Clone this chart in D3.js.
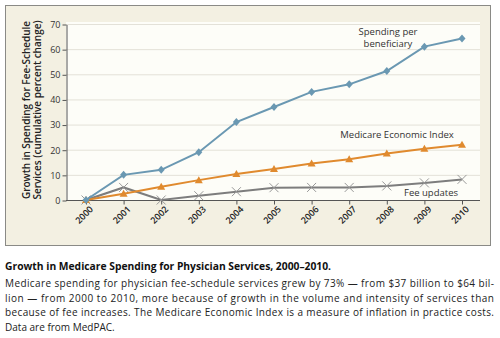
<!DOCTYPE html>
<html>
<head>
<meta charset="utf-8">
<script src="https://d3js.org/d3.v7.min.js"></script>
<style>
  body { margin: 0; background: #fff; }
  text { font-family: "Open Sans", "DejaVu Sans", sans-serif; }
</style>
</head>
<body>
<div id="chart"></div>
<script>

// data
var years = [2000, 2001, 2002, 2003, 2004, 2005, 2006, 2007, 2008, 2009, 2010];
var spendingPerBeneficiary = [0, 10, 12, 19, 31, 37, 43, 46, 51.3, 61, 64.2];
var medicareEconomicIndex = [0, 2.5, 5.3, 7.9, 10.3, 12.3, 14.5, 16.2, 18.5, 20.4, 22];
var feeUpdates = [0, 5, 0, 1.7, 3.3, 4.9, 5, 5, 5.6, 6.8, 8.2];
var yTicks = [0, 10, 20, 30, 40, 50, 60, 70];

var captionTitle = "Growth in Medicare Spending for Physician Services, 2000\u20132010.";
var captionLines = [
  "Medicare spending for physician fee-schedule services grew by 73% \u2014 from $37 billion to $64 bil-",
  "lion \u2014 from 2000 to 2010, more because of growth in the volume and intensity of services than",
  "because of fee increases. The Medicare Economic Index is a measure of inflation in practice costs.",
  "Data are from MedPAC."
];

var W = 500, H = 338;
var plot = {left: 66, right: 480, top: 24, bottom: 200};

var svg = d3.select("#chart").append("svg")
  .attr("width", W)
  .attr("height", H);

// outer panel
svg.append("rect")
  .attr("x", 5.5).attr("y", 5.5)
  .attr("width", 485).attr("height", 240)
  .attr("fill", "#f3f0e2")
  .attr("stroke", "#8a8a86")
  .attr("stroke-width", 1);

// plot background
svg.append("rect")
  .attr("x", plot.left).attr("y", plot.top - 2)
  .attr("width", plot.right - plot.left).attr("height", plot.bottom - plot.top + 2)
  .attr("fill", "#fdfdf8");

var x = d3.scaleLinear()
  .domain([2000, 2010])
  .range([86, 462]);

var y = d3.scaleLinear()
  .domain([0, 70])
  .range([plot.bottom, plot.top]);

// gridlines
svg.append("g")
  .selectAll("line")
  .data(yTicks.filter(function(d) { return d > 0; }))
  .enter().append("line")
  .attr("x1", plot.left).attr("x2", plot.right)
  .attr("y1", function(d) { return y(d) + 0.5; })
  .attr("y2", function(d) { return y(d) + 0.5; })
  .attr("stroke", "#e3e1d8")
  .attr("stroke-width", 1);

// y axis
var yAxis = svg.append("g")
  .attr("transform", "translate(" + (plot.left + 0.5) + ",0.5)")
  .call(d3.axisLeft(y).tickValues(yTicks).tickSize(4).tickSizeOuter(0));
yAxis.select(".domain").attr("stroke", "#555");
yAxis.selectAll(".tick line").attr("stroke", "#555");
yAxis.selectAll(".tick text")
  .attr("x", -6)
  .attr("fill", "#333")
  .style("font-size", "9px")
  .style("font-family", "'Open Sans', sans-serif");

// x axis
var xAxis = svg.append("g")
  .attr("transform", "translate(0," + (plot.bottom + 0.5) + ")")
  .call(d3.axisBottom(x).tickValues(years).tickFormat(d3.format("d")).tickSize(4).tickSizeOuter(0));
xAxis.select(".domain").attr("stroke", "#555").attr("d", "M" + plot.left + ",0H" + plot.right);
xAxis.selectAll(".tick line").attr("stroke", "#555");
xAxis.selectAll(".tick text")
  .attr("text-anchor", "end")
  .attr("transform", "translate(5,7) rotate(-45)")
  .attr("x", 0).attr("y", 0).attr("dy", "0.35em")
  .attr("fill", "#222")
  .style("font-size", "9px")
  .style("font-weight", "600")
  .style("font-family", "'Open Sans', sans-serif");

// y axis title
var yTitle = svg.append("text")
  .attr("transform", "translate(30,110) rotate(-90)")
  .attr("text-anchor", "middle")
  .attr("fill", "#222")
  .style("font-size", "10px")
  .style("font-weight", "600");
yTitle.append("tspan").attr("x", 0).attr("dy", 0).text("Growth in Spending for Fee-Schedule");
yTitle.append("tspan").attr("x", 0).attr("dy", 11).text("Services (cumulative percent change)");

var series = [
  {name: "spending", values: spendingPerBeneficiary, color: "#6a98b2", marker: "diamond"},
  {name: "mei", values: medicareEconomicIndex, color: "#e08a2e", marker: "triangle"},
  {name: "fee", values: feeUpdates, color: "#7d7d7d", marker: "cross"}
];

var line = d3.line()
  .x(function(d, i) { return x(years[i]); })
  .y(function(d) { return y(d); });

// draw back-to-front: fee, mei, spending
[series[2], series[1], series[0]].forEach(function(s) {
  svg.append("path")
    .attr("d", line(s.values))
    .attr("fill", "none")
    .attr("stroke", s.color)
    .attr("stroke-width", 2);

  var g = svg.append("g");
  s.values.forEach(function(v, i) {
    var cx = x(years[i]), cy = y(v);
    if (s.marker === "diamond") {
      g.append("path")
        .attr("d", "M0,-4L3.5,0L0,4L-3.5,0Z")
        .attr("transform", "translate(" + cx + "," + cy + ")")
        .attr("fill", s.color);
    } else if (s.marker === "triangle") {
      g.append("path")
        .attr("d", "M0,-4L4,3L-4,3Z")
        .attr("transform", "translate(" + cx + "," + cy + ")")
        .attr("fill", s.color);
    } else {
      g.append("path")
        .attr("d", "M-4.5,-4.5L4.5,4.5M-4.5,4.5L4.5,-4.5")
        .attr("transform", "translate(" + cx + "," + cy + ")")
        .attr("stroke", "#999")
        .attr("stroke-width", 1);
    }
  });
});

// series labels
var labelStyle = function(t) {
  t.attr("text-anchor", "middle")
   .attr("fill", "#333")
   .style("font-size", "9.5px");
};
var l1 = svg.append("text").call(labelStyle);
l1.append("tspan").attr("x", 388).attr("y", 35).text("Spending per");
l1.append("tspan").attr("x", 388).attr("y", 47).text("beneficiary");
svg.append("text").call(labelStyle).attr("x", 397).attr("y", 138).text("Medicare Economic Index");
svg.append("text").call(labelStyle).attr("x", 431).attr("y", 196).text("Fee updates");

// caption
svg.append("text")
  .attr("x", 5).attr("y", 270)
  .attr("fill", "#111")
  .style("font-size", "10.3px")
  .style("font-weight", "bold")
  .text(captionTitle);

captionLines.forEach(function(t, i) {
  var el = svg.append("text")
    .attr("x", 5).attr("y", 287 + i * 14.6)
    .attr("fill", "#222")
    .style("font-size", "10px")
    .text(t);
  if (i < captionLines.length - 1) {
    el.attr("textLength", 489).attr("lengthAdjust", "spacing");
  }
});

</script>
</body>
</html>
